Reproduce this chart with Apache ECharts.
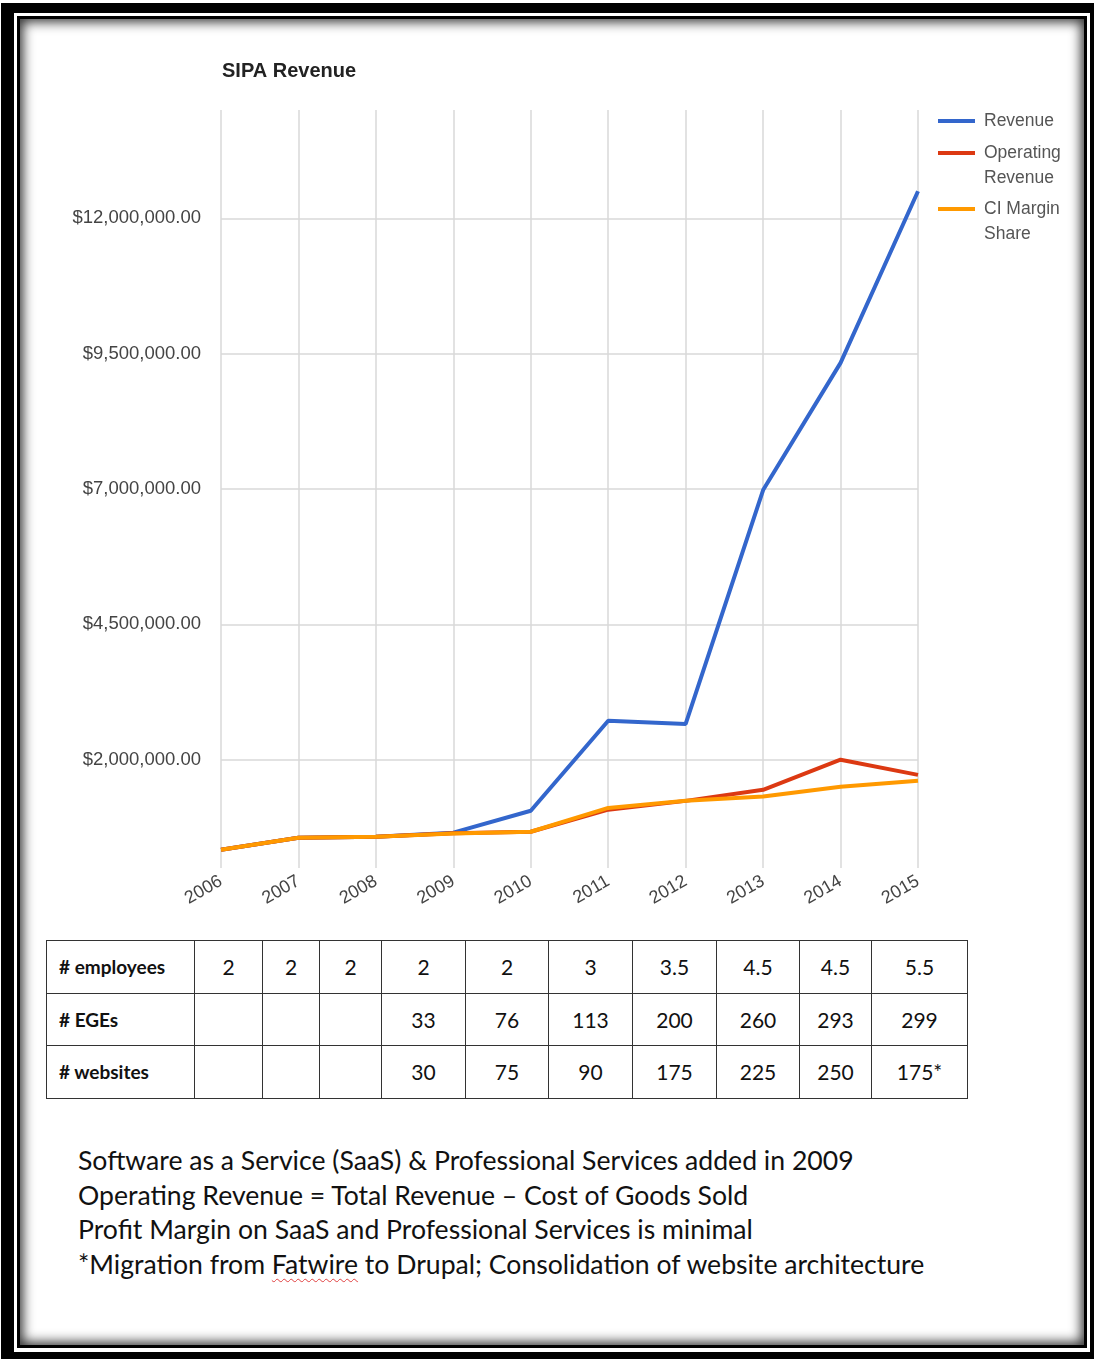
<!DOCTYPE html>
<html>
<head>
<meta charset="utf-8">
<script src="https://cdn.jsdelivr.net/npm/echarts@6/dist/echarts.min.js"></script>
<style>
  html, body { margin: 0; padding: 0; background: #fff; }
  body { width: 1094px; height: 1359px; position: relative; overflow: hidden; }
  .abs { position: absolute; }
  #outer { left: 1px; top: 3px; width: 1093px; height: 1356px; background: #000; }
  #gap { left: 14px; top: 13px; width: 1076px; height: 1339px; background: #fff; }
  #inner { left: 17px; top: 16px; width: 1070px; height: 1332px; box-sizing: border-box;
           border: 3px solid #000; background: #fff;
           box-shadow: inset 0 0 12px 3px rgba(0,0,0,0.8); }
  #chart { left: 0; top: 0; width: 1094px; height: 930px; }
  #tbl { left: 46px; top: 940px; border-collapse: collapse; font-family: Lato, "Liberation Sans", sans-serif; color: #111; }
  #tbl td { border: 1.6px solid #333; height: 52.5px; padding: 0; text-align: center; font-size: 21px; box-sizing: border-box; }
  #tbl td.lbl { text-align: left; padding-left: 12px; font-weight: bold; font-size: 19px; }
  #notes { left: 78px; top: 1143px; font-family: Lato, "Liberation Sans", sans-serif; font-size: 26.6px; line-height: 34.5px; color: #111; white-space: nowrap; }
  .sp { text-decoration: underline wavy #e04040; text-decoration-thickness: 1px; text-underline-offset: 4px; }
</style>
</head>
<body>
<div id="outer" class="abs"></div>
<div id="gap" class="abs"></div>
<div id="inner" class="abs"></div>
<div id="chart" class="abs"></div>
<table id="tbl" class="abs"></table>
<div id="notes" class="abs"></div>
<script>
// ---- data ----
const years = ['2006', '2007', '2008', '2009', '2010', '2011', '2012', '2013', '2014', '2015'];
const revenue = [338000, 559000, 578000, 652000, 1058000, 2720000, 2660000, 6980000, 9330000, 12500000];
const operatingRevenue = [338000, 559000, 578000, 640000, 670000, 1077000, 1240000, 1445000, 2000000, 1720000];
const ciMarginShare = [338000, 559000, 578000, 635000, 670000, 1110000, 1240000, 1320000, 1500000, 1610000];
const yTickValues = [2000000, 4500000, 7000000, 9500000, 12000000];
const seriesNames = ['Revenue', 'Operating Revenue', 'CI Margin Share'];
const legendLabels = ['Revenue', 'Operating\nRevenue', 'CI Margin\nShare'];
const seriesColors = ['#3366cc', '#dc3912', '#ff9900'];

const rowLabels = ['# employees', '# EGEs', '# websites'];
const employees = ['2', '2', '2', '2', '2', '3', '3.5', '4.5', '4.5', '5.5'];
const eges = ['', '', '', '33', '76', '113', '200', '260', '293', '299'];
const websites = ['', '', '', '30', '75', '90', '175', '225', '250', '175*'];
const colWidths = [148, 68, 57, 62, 84, 83, 84, 84, 83, 72, 96];

const notes = [
  'Software as a Service (SaaS) &amp; Professional Services added in 2009',
  'Operating Revenue = Total Revenue \u2013 Cost of Goods Sold',
  'Profit Margin on SaaS and Professional Services is minimal',
  '*Migration from <span class="sp">Fatwire</span> to Drupal; Consolidation of website architecture'
];

// ---- table ----
const tbl = document.getElementById('tbl');
const cg = document.createElement('colgroup');
colWidths.forEach(w => { const c = document.createElement('col'); c.style.width = w + 'px'; cg.appendChild(c); });
tbl.appendChild(cg);
[employees, eges, websites].forEach((row, i) => {
  const tr = document.createElement('tr');
  const th = document.createElement('td'); th.className = 'lbl'; th.textContent = rowLabels[i]; tr.appendChild(th);
  row.forEach(v => { const td = document.createElement('td'); td.textContent = v; tr.appendChild(td); });
  tbl.appendChild(tr);
});
tbl.style.width = colWidths.reduce((a, b) => a + b, 0) + 'px';
tbl.style.tableLayout = 'fixed';

document.getElementById('notes').innerHTML = notes.join('<br>');

// ---- chart ----
const chart = echarts.init(document.getElementById('chart'), null, { renderer: 'canvas' });
const font = '"Liberation Sans", Arial, sans-serif';
const legendTops = [108.5, 115.5, 171.5];
const legends = seriesNames.map((n, i) => {
  const multi = legendLabels[i].indexOf('\n') >= 0;
  return {
    data: [n],
    left: 938,
    top: legendTops[i],
    padding: 0,
    orient: 'vertical',
    icon: 'rect',
    itemWidth: 37,
    itemHeight: 4,
    selectedMode: false,
    // a blank leading line keeps the first text line level with the icon
    formatter: () => (multi ? ' \n' : '') + legendLabels[i],
    textStyle: { fontFamily: font, fontSize: 17.5, color: '#555', lineHeight: 25, padding: [0, 0, 0, 4] }
  };
});

chart.setOption({
  animation: false,
  title: {
    text: 'SIPA Revenue', left: 222, top: 61, padding: 0,
    textStyle: { fontFamily: font, fontSize: 20, fontWeight: 'bold', color: '#222' }
  },
  legend: legends,
  grid: { left: 221, top: 110, width: 697, height: 758, containLabel: false },
  xAxis: {
    type: 'category', data: years, boundaryGap: false,
    axisLine: { show: false }, axisTick: { show: false },
    splitLine: { show: true, lineStyle: { color: '#d9d9d9', width: 1.5 } },
    axisLabel: { rotate: 30, margin: 12, fontFamily: font, fontSize: 18, color: '#444' }
  },
  yAxis: {
    type: 'value', min: 0, max: 14000000,
    axisLine: { show: false },
    axisTick: { show: false, customValues: yTickValues },
    splitLine: { show: true, lineStyle: { color: '#d9d9d9', width: 1.5 } },
    axisLabel: {
      customValues: yTickValues, margin: 20, fontFamily: font, fontSize: 18.5, color: '#444',
      padding: [4, 0, 0, 0],
      formatter: v => '$' + Number(v).toLocaleString('en-US', { minimumFractionDigits: 2, maximumFractionDigits: 2 })
    }
  },
  series: [revenue, operatingRevenue, ciMarginShare].map((d, i) => ({
    name: seriesNames[i], type: 'line', data: d, symbol: 'none',
    lineStyle: { width: 4, color: seriesColors[i] }, itemStyle: { color: seriesColors[i] }
  }))
});
</script>
</body>
</html>
